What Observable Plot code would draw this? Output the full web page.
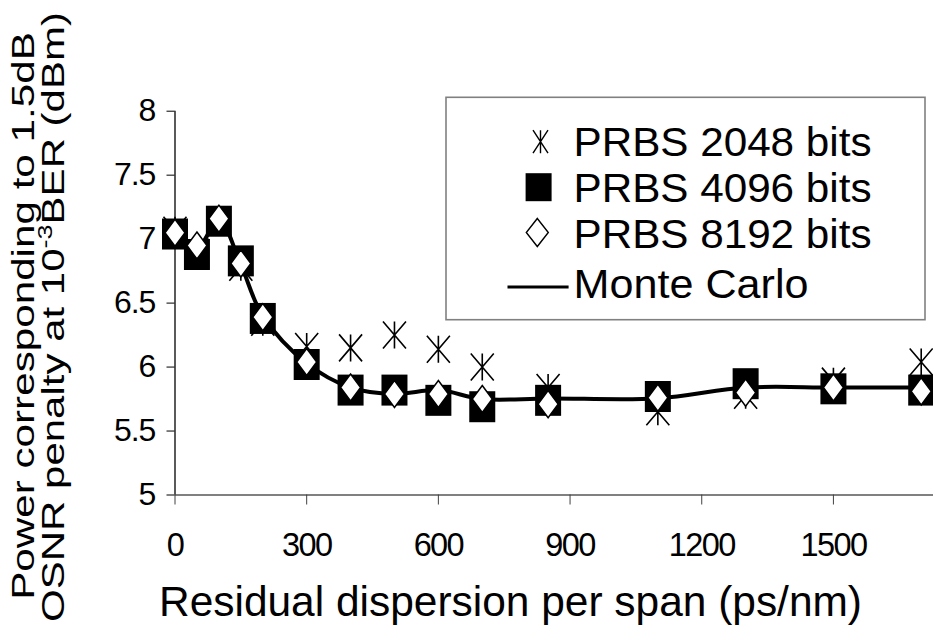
<!DOCTYPE html>
<html>
<head>
<meta charset="utf-8">
<script src="https://cdn.jsdelivr.net/npm/d3@7"></script>
<script src="https://cdn.jsdelivr.net/npm/@observablehq/plot@0.6"></script>
<style>
  html, body { margin: 0; padding: 0; background: #fff; }
  #chart { position: relative; width: 933px; height: 630px; overflow: hidden; }
  #chart svg { font-family: "Liberation Sans", Arial, sans-serif; }
  #chart svg [aria-label="x-axis tick label"] text { letter-spacing: -1.6px; }
  #chart svg [aria-label="y-axis tick label"] text { letter-spacing: -1.2px; }
</style>
</head>
<body>
<div id="chart"></div>
<script>
// Residual dispersion per span (ps/nm) at which each run was made
const dispersion = [0, 50, 100, 150, 200, 300, 400, 500, 600, 700, 850, 1100, 1300, 1500, 1700];

// Power (dBm) giving a 1.5 dB OSNR penalty at BER 1e-3
const prbs2048 = [7.07, 6.90, 7.15, 6.78, 6.35, 6.16, 6.15, 6.25, 6.14, 6.00, 5.84, 5.65, 5.78, 5.89, 6.04];
const prbs4096 = [7.04, 6.88, 7.14, 6.83, 6.38, 6.02, 5.82, 5.82, 5.74, 5.69, 5.74, 5.77, 5.87, 5.83, 5.82];
const prbs8192 = [7.05, 6.95, 7.16, 6.81, 6.39, 6.04, 5.84, 5.79, 5.79, 5.75, 5.71, 5.76, 5.80, 5.84, 5.81];
const monteCarlo = [7.05, 6.93, 7.15, 6.80, 6.40, 6.03, 5.84, 5.79, 5.82, 5.75, 5.755, 5.755, 5.84, 5.84, 5.84];

const seriesNames = ["PRBS 2048 bits", "PRBS 4096 bits", "PRBS 8192 bits", "Monte Carlo"];

const xTicks = [0, 300, 600, 900, 1200, 1500];
const xTickLabels = ["0", "300", "600", "900", "1200", "1500"];
const yTicks = [5, 5.5, 6, 6.5, 7, 7.5, 8];
const yTickLabels = ["5", "5.5", "6", "6.5", "7", "7.5", "8"];

const xTitle = "Residual dispersion per span (ps/nm)";
const yTitleLine1 = "Power corresponding to 1.5dB";
const yTitleLine2 = ["OSNR penalty at 10", "-3", "BER (dBm)"];

// Marker shapes (width, height in px), usable both by Plot.dot and the legend
function boxSymbol(w, h) {
  return { draw(ctx) {
    ctx.moveTo(-w / 2, -h / 2); ctx.lineTo(w / 2, -h / 2);
    ctx.lineTo(w / 2, h / 2); ctx.lineTo(-w / 2, h / 2); ctx.closePath();
  } };
}
function diamondSymbol(w, h) {
  return { draw(ctx) {
    ctx.moveTo(0, -h / 2); ctx.lineTo(w / 2, 0);
    ctx.lineTo(0, h / 2); ctx.lineTo(-w / 2, 0); ctx.closePath();
  } };
}
function starSymbol(w, h) {
  return { draw(ctx) {
    ctx.moveTo(0, -h / 2); ctx.lineTo(0, h / 2);
    ctx.moveTo(-w / 2, -h / 2); ctx.lineTo(w / 2, h / 2);
    ctx.moveTo(w / 2, -h / 2); ctx.lineTo(-w / 2, h / 2);
  } };
}
function symbolPath(sym) { const p = d3.path(); sym.draw(p); return p.toString(); }

const rows = (ys) => dispersion.map((x, i) => ({ x, y: ys[i] }));

const plot = Plot.plot({
  width: 933,
  height: 630,
  marginLeft: 174.5,
  marginRight: 0,
  marginTop: 110.7,
  marginBottom: 135.5,
  x: { domain: [0, 1728] },
  y: { domain: [5, 8] },
  style: { fontFamily: '"Liberation Sans", Arial, sans-serif', fontSize: "32px", color: "#000", background: "#fff", overflow: "visible" },
  marks: [
    Plot.ruleY([5], { stroke: "#808080", strokeWidth: 2 }),
    Plot.ruleX([0], { stroke: "#000", strokeWidth: 1.3 }),
    Plot.axisY({ ticks: yTicks, tickSize: 8, tickPadding: 12, tickFormat: (d, i) => yTickLabels[i], label: null, fontSize: 32, stroke: "#000" }),
    Plot.axisX({ ticks: xTicks, tickSize: 10, tickPadding: 28, tickFormat: (d, i) => xTickLabels[i], label: null, fontSize: 32.5, stroke: "#404040" }),
    Plot.line(rows(monteCarlo), { x: "x", y: "y", curve: "catmull-rom", stroke: "#000", strokeWidth: 4 }),
    Plot.dot(rows(prbs2048), { x: "x", y: "y", symbol: starSymbol(23, 27), fill: "none", stroke: "#000", strokeWidth: 1.6 }),
    Plot.dot(rows(prbs4096), { x: "x", y: "y", symbol: boxSymbol(26, 31), fill: "#000", stroke: "none" }),
    Plot.dot(rows(prbs8192), { x: "x", y: "y", symbol: diamondSymbol(20, 27), fill: "#fff", stroke: "#000", strokeWidth: 1.5 })
  ]
});

document.getElementById("chart").appendChild(plot);
const svg = d3.select(plot);
const font = '"Liberation Sans", Arial, sans-serif';

// Axis titles
svg.append("text")
  .attr("x", 159).attr("y", 615.7).attr("text-anchor", "start")
  .attr("font-family", font).attr("font-size", 43).attr("fill", "#000")
  .attr("textLength", 703).attr("lengthAdjust", "spacingAndGlyphs")
  .text(xTitle);

function stretchRotated(textSel, cx, cy, target) {
  const natural = textSel.node().getComputedTextLength();
  textSel.attr("transform", `translate(${cx},${cy}) rotate(-90) scale(${target / natural},1)`);
}
const yt1 = svg.append("text")
  .attr("text-anchor", "middle").attr("font-family", font).attr("font-size", 31).attr("fill", "#000")
  .text(yTitleLine1);
stretchRotated(yt1, 34, 316, 568);

const yt2 = svg.append("text")
  .attr("text-anchor", "middle").attr("font-family", font).attr("font-size", 31).attr("fill", "#000");
yt2.append("tspan").text(yTitleLine2[0]);
yt2.append("tspan").attr("font-size", 20).attr("dy", -12).text(yTitleLine2[1]);
yt2.append("tspan").attr("dy", 12).text(yTitleLine2[2]);
stretchRotated(yt2, 64, 317, 610);

// Legend box
const lg = svg.append("g").attr("class", "legend").attr("text-anchor", "start");
lg.append("rect")
  .attr("x", 446).attr("y", 97.3).attr("width", 479).attr("height", 222.4)
  .attr("fill", "#fff").attr("stroke", "#808080").attr("stroke-width", 1.6);

const legendSymbols = [
  { path: symbolPath(starSymbol(15, 23)), cx: 540.5, cy: 141.7, fill: "none", stroke: "#000", sw: 1.4 },
  { path: symbolPath(boxSymbol(26, 28)), cx: 538.6, cy: 187.2, fill: "#000", stroke: "none", sw: 0 },
  { path: symbolPath(diamondSymbol(22, 28)), cx: 537.3, cy: 232.5, fill: "#fff", stroke: "#000", sw: 1.4 }
];
legendSymbols.forEach((s) => {
  lg.append("path").attr("d", s.path)
    .attr("transform", `translate(${s.cx},${s.cy})`)
    .attr("fill", s.fill).attr("stroke", s.stroke).attr("stroke-width", s.sw);
});
lg.append("line").attr("x1", 507.5).attr("x2", 568.6).attr("y1", 287).attr("y2", 287)
  .attr("stroke", "#000").attr("stroke-width", 3);

const legendBaselines = [156, 202, 248, 297.5];
const legendLengths = [298, 298, 298, 235];
seriesNames.forEach((name, i) => {
  lg.append("text")
    .attr("x", 573.5).attr("y", legendBaselines[i]).attr("text-anchor", "start")
    .attr("font-family", font).attr("font-size", 40).attr("fill", "#000")
    .attr("textLength", legendLengths[i]).attr("lengthAdjust", "spacingAndGlyphs")
    .text(name);
});
</script>
</body>
</html>
